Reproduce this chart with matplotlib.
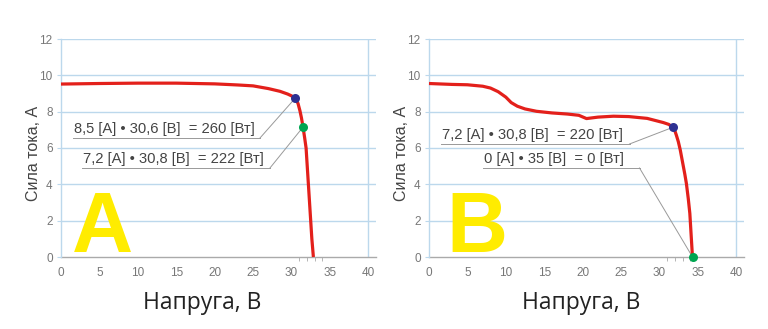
import matplotlib
matplotlib.use("Agg")
import matplotlib.pyplot as plt
import numpy as np

# ---- data ----
xa = [0, 5, 10, 15, 20, 23, 25, 27, 28.5, 29.5, 30.0, 30.5, 30.85, 31.1, 31.3, 31.5, 31.7,
      31.9, 32.05, 32.2, 32.35, 32.5, 32.65, 32.85]
ya = [9.52, 9.55, 9.57, 9.57, 9.53, 9.47, 9.42, 9.27, 9.12, 8.97, 8.87, 8.75, 8.45, 8.05, 7.65,
      7.15, 6.6, 6.0, 5.0, 4.0, 3.0, 2.0, 1.0, 0]
xb = [0, 3, 5, 7, 8, 9, 10, 10.7, 11.5, 12.5, 14, 16, 18, 19.5, 20.5, 22, 24, 26, 28.4, 30.5,
      31.2, 31.75, 32.0, 32.2, 32.45, 32.7, 32.9, 33.1, 33.3, 33.5, 33.75, 33.95, 34.05, 34.15,
      34.25, 34.3]
yb = [9.55, 9.5, 9.48, 9.4, 9.3, 9.1, 8.8, 8.5, 8.3, 8.15, 8.02, 7.93, 7.87, 7.8, 7.62, 7.7, 7.75,
      7.73, 7.63, 7.4, 7.3, 7.14, 6.95, 6.7, 6.35, 5.9, 5.45, 5.0, 4.55, 4.05, 3.2, 2.4, 1.7, 1.0,
      0.3, 0]
pts_a = {"blue": (30.5, 8.75), "green": (31.5, 7.15)}
pts_b = {"blue": (31.75, 7.14), "green": (34.3, 0)}
labels_a = ["8,5 [A] • 30,6 [B]  = 260 [Вт]", "7,2 [A] • 30,8 [B]  = 222 [Вт]"]
labels_b = ["7,2 [A] • 30,8 [B]  = 220 [Вт]", "0 [A] • 35 [B]  = 0 [Вт]"]
xticks = [0, 5, 10, 15, 20, 25, 30, 35, 40]
yticks = [0, 2, 4, 6, 8, 10, 12]
minor_x = [30, 31, 32, 33, 34, 35]
xlabel = "Напруга, В"
ylabel = "Сила тока, А"

GRID = "#bcd8ec"
RED = "#e3201b"
BLUE = "#2e3192"
GREEN = "#00a651"
YEL = "#ffec00"
TXT = "#444444"

plt.rcParams['font.family'] = ['Liberation Sans', 'DejaVu Sans']

fig = plt.figure(figsize=(7.68, 3.29), dpi=100)
ax1 = fig.add_axes([61/768, 1-257/329, 315/768, 218/329])
ax2 = fig.add_axes([429/768, 1-257/329, 315/768, 218/329])


def setup(ax):
    ax.set_xlim(0, 41)
    ax.set_ylim(0, 12)
    for s in ["top", "right"]:
        ax.spines[s].set_visible(False)
    ax.spines["left"].set_color(GRID)
    ax.spines["left"].set_linewidth(1.0)
    ax.spines["bottom"].set_color("#aaaaaa")
    ax.spines["bottom"].set_linewidth(1.0)
    ax.spines["bottom"].set_zorder(1)
    for y in yticks[1:]:
        ax.axhline(y, color=GRID, lw=1.0, zorder=0)
    ax.axvline(40, color=GRID, lw=1.0, zorder=0)
    ax.set_xticks(xticks)
    ax.set_xticks(minor_x, minor=True)
    ax.set_yticks(yticks)
    ax.tick_params(axis="x", which="major", length=0, pad=7, labelsize=8.5, labelcolor="#777777")
    ax.tick_params(axis="x", which="minor", length=3, color="#aaaaaa", direction="out")
    ax.tick_params(axis="y", length=3, color=GRID, pad=3, labelsize=8.5, labelcolor="#777777")


for ax in (ax1, ax2):
    setup(ax)

# curves
ax1.plot(xa, ya, color=RED, lw=2.3, clip_on=False, zorder=3, solid_capstyle="butt",
         solid_joinstyle="round")
ax2.plot(xb, yb, color=RED, lw=2.3, clip_on=False, zorder=3, solid_capstyle="butt",
         solid_joinstyle="round")
for ax, pts in ((ax1, pts_a), (ax2, pts_b)):
    for c, key in ((BLUE, "blue"), (GREEN, "green")):
        ax.plot(*pts[key], "o", color=c, ms=6.5, mec="none", clip_on=False, zorder=4)


def annot(ax, text, x0, x1, y, pt):
    ax.plot([x0, x1], [y, y], color="#999999", lw=0.7, zorder=2)
    ax.plot([x1, pt[0]], [y, pt[1]], color="#999999", lw=0.7, zorder=2)
    ax.text(x0 + 0.1, y + 0.12, text, ha="left", va="bottom", fontsize=10.6, color=TXT, zorder=2)


annot(ax1, labels_a[0], 1.56, 25.9, 6.55, pts_a["blue"])
annot(ax1, labels_a[1], 2.7, 27.2, 4.9, pts_a["green"])
annot(ax2, labels_b[0], 1.56, 26.1, 6.22, pts_b["blue"])
annot(ax2, labels_b[1], 7.0, 27.4, 4.9, pts_b["green"])

# big letters
ax1.text(1.45, 0.28, "A", fontsize=61, fontweight="bold", color=YEL, ha="left", va="baseline", zorder=1)
ax2.text(2.2, 0.28, "B", fontsize=61, fontweight="bold", color=YEL, ha="left", va="baseline", zorder=1)

# axis labels
for ax, xc in ((ax1, 202), (ax2, 581)):
    fig.text(xc/768, 1-309/329, xlabel, ha="center", va="baseline", fontsize=16.5,
             family=["Open Sans", "DejaVu Sans"], color="#222222")
for xc in (33, 401):
    fig.text(xc/768, 1-153/329, ylabel, ha="center", va="center", rotation=90,
             fontsize=11.5, color=TXT)

fig.savefig("out.png", dpi=100, facecolor="white")
